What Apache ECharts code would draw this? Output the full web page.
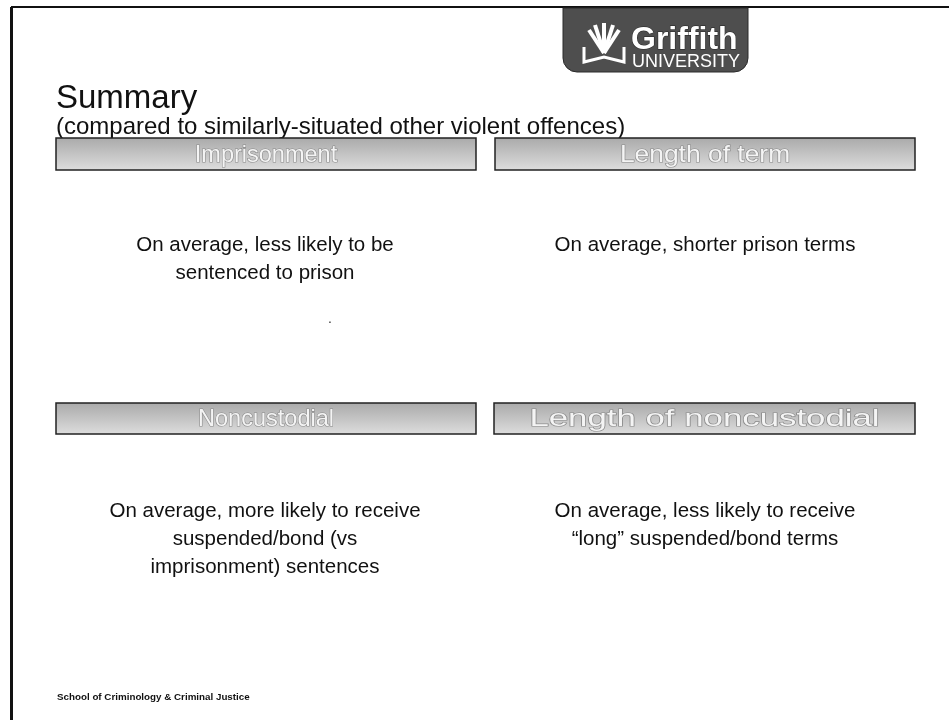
<!DOCTYPE html>
<html>
<head>
<meta charset="utf-8">
<script src="https://cdn.jsdelivr.net/npm/echarts@6/dist/echarts.min.js"></script>
<style>html,body{margin:0;padding:0;background:#fff}#c{width:949px;height:720px}</style>
</head>
<body>
<div id="c"></div>
<script>
var titleText = 'Summary';
var subtitleText = '(compared to similarly-situated other violent offences)';
var headings = ['Imprisonment', 'Length of term', 'Noncustodial', 'Length of noncustodial'];
var bodies = [
  'On average, less likely to be\nsentenced to prison',
  'On average, shorter prison terms',
  'On average, more likely to receive\nsuspended/bond (vs\nimprisonment) sentences',
  'On average, less likely to receive\n\u201clong\u201d suspended/bond terms'
];
var footerText = 'School of Criminology & Criminal Justice';
var logoWords = ['Griffith', 'UNIVERSITY'];

var FONT = '"Liberation Sans", Arial, sans-serif';
var chart = echarts.init(document.getElementById('c'), null, {renderer: 'canvas'});

var cells = [
  {x: 56, y: 138, w: 420, h: 32, tx: 265, ty: 231, sx: 0.98},
  {x: 495, y: 138, w: 420, h: 32, tx: 705, ty: 231, sx: 1.1},
  {x: 56, y: 403, w: 420, h: 31, tx: 265, ty: 497, sx: 0.98},
  {x: 494, y: 403, w: 421, h: 31, tx: 705, ty: 497, sx: 1.45}
];

var g = [];
// slide border
g.push({type: 'line', shape: {x1: 11, y1: 7, x2: 949, y2: 7}, style: {stroke: '#111', lineWidth: 2}});
g.push({type: 'line', shape: {x1: 11.5, y1: 7, x2: 11.5, y2: 720}, style: {stroke: '#111', lineWidth: 3}});

// logo
g.push({type: 'rect', shape: {x: 563, y: 8, width: 185, height: 64, r: [0, 0, 14, 14]},
  style: {fill: '#4e4e4e', stroke: '#2a2a2a', lineWidth: 1}});
g.push({type: 'polyline', shape: {points: [[584, 47], [584, 62], [604, 57], [624, 62], [624, 47]]},
  style: {stroke: '#fff', lineWidth: 3, fill: null}});
[[589, 30], [595, 25], [604, 23], [613, 25], [619, 30]].forEach(function (p) {
  g.push({type: 'line', shape: {x1: 604, y1: 53, x2: p[0], y2: p[1]}, style: {stroke: '#fff', lineWidth: 4}});
});
g.push({type: 'text', x: 631, y: 40, style: {text: logoWords[0], fill: '#fff', font: 'bold 32px ' + FONT, textVerticalAlign: 'middle', stroke: '#222', lineWidth: 1}});
g.push({type: 'text', x: 632, y: 62, style: {text: logoWords[1], fill: '#fff', font: '18px ' + FONT, textVerticalAlign: 'middle'}});

// title + subtitle
g.push({type: 'text', x: 56, y: 99, style: {text: titleText, fill: '#111', font: '33px ' + FONT, textVerticalAlign: 'middle'}});
g.push({type: 'text', x: 56, y: 127, style: {text: subtitleText, fill: '#111', font: '24px ' + FONT, textVerticalAlign: 'middle'}});

cells.forEach(function (c, i) {
  g.push({type: 'rect', shape: {x: c.x, y: c.y, width: c.w, height: c.h},
    style: {
      fill: new echarts.graphic.LinearGradient(0, 0, 0, 1, [
        {offset: 0, color: '#a9a9a9'}, {offset: 1, color: '#dedede'}
      ]),
      stroke: '#222', lineWidth: 1.5
    }});
  g.push({type: 'text', x: c.x + c.w / 2, y: c.y + c.h / 2 + 1, scaleX: c.sx,
    style: {text: headings[i], fill: '#f4f4f4', font: '24px ' + FONT,
      textAlign: 'center', textVerticalAlign: 'middle', stroke: '#8a8a8a', lineWidth: 1.2}});
  g.push({type: 'text', x: c.tx, y: c.ty,
    style: {text: bodies[i], fill: '#111', font: '20.5px ' + FONT, lineHeight: 28,
      textAlign: 'center', textVerticalAlign: 'top'}});
});

g.push({type: 'text', x: 330, y: 319, style: {text: '.', fill: '#333', font: '14px ' + FONT, textAlign: 'center', textVerticalAlign: 'middle'}});

g.push({type: 'text', x: 57, y: 697, style: {text: footerText, fill: '#111', font: 'bold 9.8px ' + FONT, textVerticalAlign: 'middle'}});

chart.setOption({backgroundColor: '#fff', animation: false, graphic: {elements: g}});
</script>
</body>
</html>
